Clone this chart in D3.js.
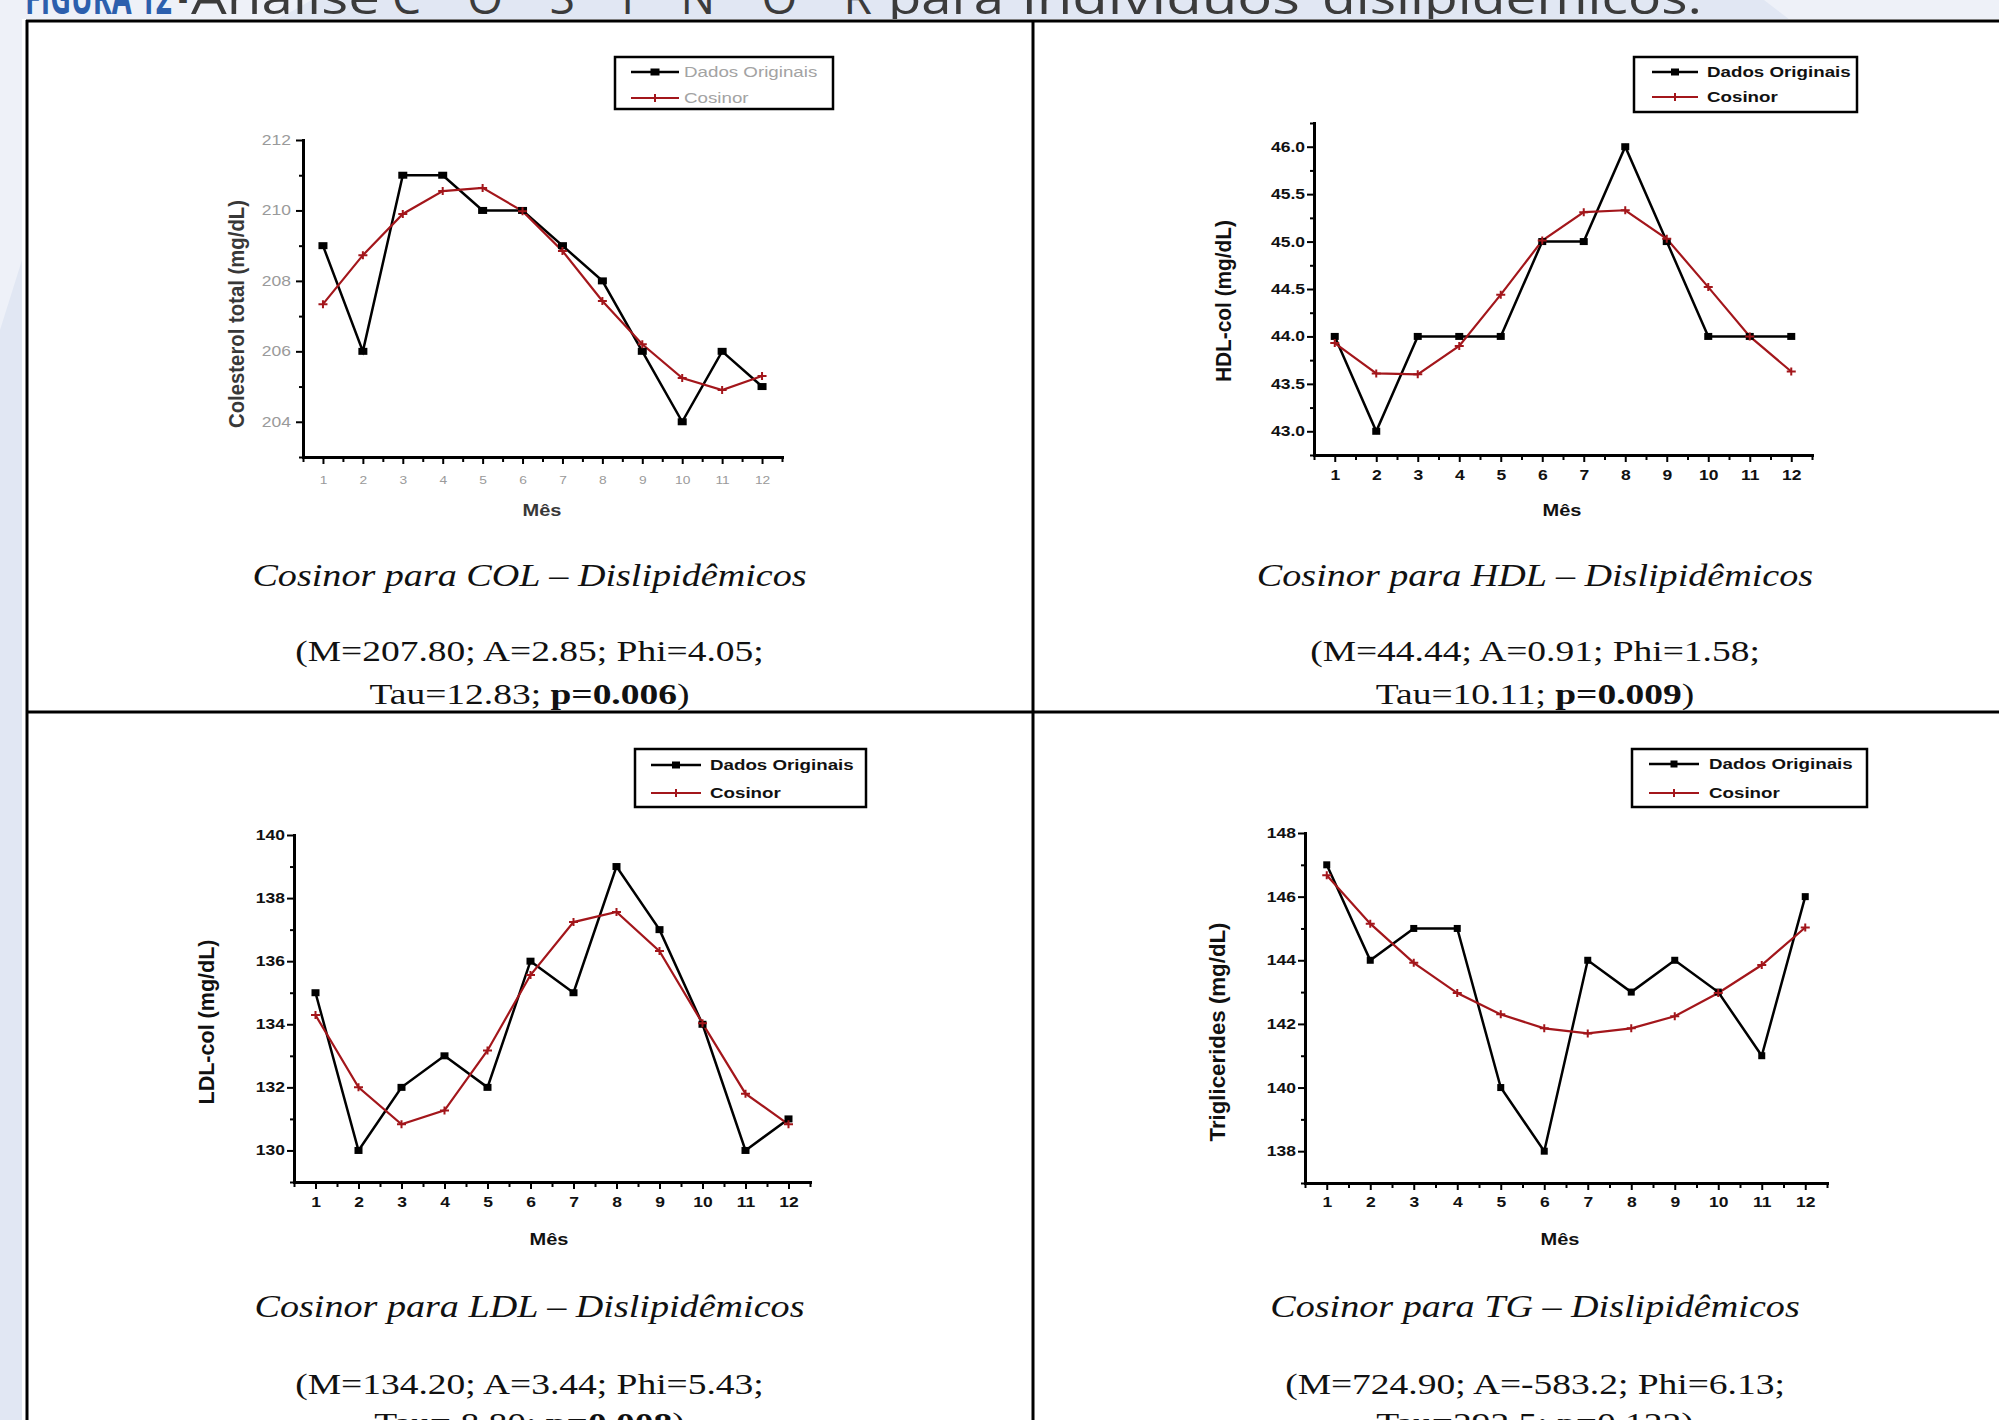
<!DOCTYPE html>
<html>
<head>
<meta charset="utf-8">
<script src="https://cdn.jsdelivr.net/npm/d3@7"></script>
<style>
  html, body { margin: 0; padding: 0; background: #e1e7f3; overflow: hidden; }
  svg { display: block; }
</style>
</head>
<body>
<svg id="fig" width="1999" height="1420"></svg>
<script>
// ---- monthly series (Mês 1..12) ----
const months = [1, 2, 3, 4, 5, 6, 7, 8, 9, 10, 11, 12];

const colOriginal = [209, 206, 211, 211, 210, 210, 209, 208, 206, 204, 206, 205];
const colCosinor  = [207.34, 208.73, 209.9, 210.55, 210.64, 209.98, 208.85, 207.43, 206.2, 205.24, 204.9, 205.3];

const hdlOriginal = [44, 43, 44, 44, 44, 45, 45, 46, 45, 44, 44, 44];
const hdlCosinor  = [43.93, 43.61, 43.6, 43.9, 44.44, 45.01, 45.31, 45.33, 45.03, 44.52, 44.0, 43.63];

const ldlOriginal = [135, 130, 132, 133, 132, 136, 135, 139, 137, 134, 130, 131];
const ldlCosinor  = [134.29, 132.0, 130.83, 131.27, 133.17, 135.56, 137.24, 137.56, 136.32, 134.03, 131.8, 130.83];

const tgOriginal = [147, 144, 145, 145, 140, 138, 144, 143, 144, 143, 141, 146];
const tgCosinor  = [146.67, 145.15, 143.92, 142.97, 142.3, 141.86, 141.7, 141.86, 142.24, 142.97, 143.85, 145.03];

// ---- axis ticks ----
const colTicks = [204, 206, 208, 210, 212];
const colMinor = [203, 205, 207, 209, 211];
const hdlTicks = [43.0, 43.5, 44.0, 44.5, 45.0, 45.5, 46.0];
const hdlMinor = [42.75, 43.25, 43.75, 44.25, 44.75, 45.25, 45.75, 46.25];
const ldlTicks = [130, 132, 134, 136, 138, 140];
const ldlMinor = [129, 131, 133, 135, 137, 139];
const tgTicks  = [138, 140, 142, 144, 146, 148];
const tgMinor  = [137, 139, 141, 143, 145, 147];
const monthMinor = [0.5, 1.5, 2.5, 3.5, 4.5, 5.5, 6.5, 7.5, 8.5, 9.5, 10.5, 11.5, 12.5];

// ---- texts ----
const headingLabel = "FIGURA 12";
const headingWords = ["-", "Análise", "COSINOR", "para", "indivíduos", "dislipidêmicos."];
const legendLabels = ["Dados Originais", "Cosinor"];
const xTitle = "Mês";
const yTitles = ["Colesterol total (mg/dL)", "HDL-col (mg/dL)", "LDL-col (mg/dL)", "Triglicerides (mg/dL)"];
const captions = [
  "Cosinor para COL – Dislipidêmicos",
  "Cosinor para HDL – Dislipidêmicos",
  "Cosinor para LDL – Dislipidêmicos",
  "Cosinor para TG – Dislipidêmicos"
];
const fitLines = [
  "(M=207.80; A=2.85; Phi=4.05;",
  "(M=44.44; A=0.91; Phi=1.58;",
  "(M=134.20; A=3.44; Phi=5.43;",
  "(M=724.90; A=-583.2; Phi=6.13;"
];
const tauLabels = ["Tau=12.83; ", "Tau=10.11; ", "Tau= 8.80; ", "Tau=292.5; "];
const pLabels = ["p=0.006", "p=0.009", "p=0.008", "p=0.122"];
const pSignificant = [true, true, true, false];

// ---- drawing ----
const W = 1999, H = 1420;
const SX = 1.25;               // horizontal widening of the lettering
const RED = "#a3161b";
const svg = d3.select("#fig");

// slide backdrop
svg.append("rect").attr("width", W).attr("height", H).attr("fill", "#e1e7f3");
svg.append("path").attr("d", "M0,0H312L276,20H22V260L0,330Z").attr("fill", "#eef1f8");
svg.append("path").attr("d", "M1764,0H1999V20H1790Z").attr("fill", "#eef1f8");

// slide heading, mostly above the visible area; every word has its own span
const headSpans = [[178, 188], [191, 380], [392, 872], [888, 1004], [1022, 1300], [1322, 1702]];
const head = svg.append("g").attr("font-family", "'Open Sans', sans-serif").attr("font-size", 46);
head.append("text").attr("x", 25).attr("y", 14).attr("fill", "#2c5fad").attr("font-weight", 700)
  .attr("textLength", 147).attr("lengthAdjust", "spacingAndGlyphs").text(headingLabel);
headingWords.forEach((w, k) => {
  const [a, b] = headSpans[k];
  head.append("text").attr("x", a).attr("y", 14).attr("fill", "#3b3b3b")
    .attr("textLength", b - a).attr("lengthAdjust", w === "COSINOR" ? "spacing" : "spacingAndGlyphs")
    .text(w);
});

// white table with its rules
svg.append("rect").attr("x", 22).attr("y", 19).attr("width", W).attr("height", H).attr("fill", "#fff");
const rules = svg.append("g").attr("stroke", "#000").attr("stroke-width", 3);
rules.append("line").attr("x1", 26).attr("x2", W).attr("y1", 21).attr("y2", 21);
rules.append("line").attr("x1", 27).attr("x2", 27).attr("y1", 20).attr("y2", H);
rules.append("line").attr("x1", 1033).attr("x2", 1033).attr("y1", 20).attr("y2", H);
rules.append("line").attr("x1", 26).attr("x2", W).attr("y1", 712).attr("y2", 712);

const panels = [
  { orig: colOriginal, cos: colCosinor, ticks: colTicks, minor: colMinor, domain: [203, 212], fmt: d3.format("d"),
    x0: 303, x1: 782, yTop: 140, yBottom: 457,
    legend: { x0: 615, x1: 833, y0: 57, y1: 109, rows: [72, 98], sx0: 631, sx1: 679, tx: 684 },
    yLab: { cx: 236, cy: 314, len: 228 }, mes: { cx: 542, cy: 510 },
    sq: [9, 7], tickColor: "#9a9a9a", tickWeight: "normal", yTickSize: 14, xTickSize: 11,
    legColor: "#a3a3a3", legWeight: "normal", legSize: 15, labColor: "#383838", xLabOff: 23, yPad: 5 },
  { orig: hdlOriginal, cos: hdlCosinor, ticks: hdlTicks, minor: hdlMinor, domain: [42.75, 46.25], fmt: d3.format(".1f"),
    x0: 1314, x1: 1812, yTop: 123, yBottom: 455,
    legend: { x0: 1634, x1: 1857, y0: 57, y1: 112, rows: [72, 97], sx0: 1652, sx1: 1698, tx: 1707 },
    yLab: { cx: 1223, cy: 301, len: 162 }, mes: { cx: 1562, cy: 510 },
    sq: [8, 7], tickColor: "#111", tickWeight: "bold", yTickSize: 14, xTickSize: 14,
    legColor: "#111", legWeight: "bold", legSize: 15, labColor: "#111", xLabOff: 20, yPad: 2 },
  { orig: ldlOriginal, cos: ldlCosinor, ticks: ldlTicks, minor: ldlMinor, domain: [129, 140], fmt: d3.format("d"),
    x0: 294, x1: 810, yTop: 835, yBottom: 1182,
    legend: { x0: 635, x1: 866, y0: 749, y1: 807, rows: [765, 793], sx0: 651, sx1: 701, tx: 710 },
    yLab: { cx: 206, cy: 1022, len: 165 }, mes: { cx: 549, cy: 1239 },
    sq: [8, 7], tickColor: "#111", tickWeight: "bold", yTickSize: 14, xTickSize: 14,
    legColor: "#111", legWeight: "bold", legSize: 15, labColor: "#111", xLabOff: 20, yPad: 2 },
  { orig: tgOriginal, cos: tgCosinor, ticks: tgTicks, minor: tgMinor, domain: [137, 148], fmt: d3.format("d"),
    x0: 1305, x1: 1827, yTop: 833, yBottom: 1183,
    legend: { x0: 1632, x1: 1867, y0: 749, y1: 807, rows: [764, 793], sx0: 1649, sx1: 1699, tx: 1709 },
    yLab: { cx: 1217, cy: 1032, len: 219 }, mes: { cx: 1560, cy: 1239 },
    sq: [7, 7], tickColor: "#111", tickWeight: "bold", yTickSize: 14, xTickSize: 14,
    legColor: "#111", legWeight: "bold", legSize: 15, labColor: "#111", xLabOff: 19, yPad: 2 }
];

const plusPath = "M-4.5,0H4.5M0,-4V4";

function drawPanel(c, i) {
  const g = svg.append("g");
  const x = d3.scaleLinear().domain([0.5, 12.5]).range([c.x0, c.x1]);
  const y = d3.scaleLinear().domain(c.domain).range([c.yBottom, c.yTop]);

  // y axis: minor then major ticks
  g.append("g").attr("transform", `translate(${c.x0},0)`)
    .call(d3.axisLeft(y).tickValues(c.minor).tickSize(4).tickSizeOuter(0).tickFormat(""));
  const ya = g.append("g").attr("transform", `translate(${c.x0},0)`)
    .call(d3.axisLeft(y).tickValues(c.ticks).tickSize(7).tickSizeOuter(0).tickPadding(c.yPad).tickFormat(c.fmt));
  ya.selectAll("text")
    .attr("font-family", "'Liberation Sans', Arial, sans-serif")
    .attr("font-size", c.yTickSize).attr("font-weight", c.tickWeight).attr("fill", c.tickColor)
    .attr("x", -(7 + c.yPad) / SX).attr("transform", `scale(${SX},1)`);

  // x axis: half-month minor ticks and monthly major ticks
  g.append("g").attr("transform", `translate(0,${c.yBottom})`)
    .call(d3.axisBottom(x).tickValues(monthMinor).tickSize(5).tickSizeOuter(0).tickFormat(""));
  const xa = g.append("g").attr("transform", `translate(0,${c.yBottom})`)
    .call(d3.axisBottom(x).tickValues(months).tickSize(7).tickSizeOuter(0).tickFormat(d3.format("d")));
  xa.selectAll("text")
    .attr("font-family", "'Liberation Sans', Arial, sans-serif")
    .attr("font-size", c.xTickSize).attr("font-weight", c.tickWeight).attr("fill", c.tickColor)
    .attr("y", c.xLabOff).attr("dy", "0.35em").attr("transform", `scale(${SX},1)`);

  g.selectAll(".domain").attr("stroke", "#000").attr("stroke-width", 3).attr("stroke-linecap", "square");
  g.selectAll(".tick line").attr("stroke", "#000").attr("stroke-width", 2);

  // series
  const line = d3.line().x((d, k) => x(months[k])).y(d => y(d));
  g.append("path").datum(c.orig).attr("d", line)
    .attr("fill", "none").attr("stroke", "#000").attr("stroke-width", 2.5).attr("stroke-linejoin", "miter");
  g.append("path").datum(c.cos).attr("d", line)
    .attr("fill", "none").attr("stroke", RED).attr("stroke-width", 2.2);

  g.selectAll(null).data(c.orig).join("rect")
    .attr("x", (d, k) => x(months[k]) - c.sq[0] / 2).attr("y", d => y(d) - c.sq[1] / 2)
    .attr("width", c.sq[0]).attr("height", c.sq[1]).attr("fill", "#000");
  g.selectAll(null).data(c.cos).join("path")
    .attr("transform", (d, k) => `translate(${x(months[k])},${y(d)})`)
    .attr("d", plusPath).attr("stroke", RED).attr("stroke-width", 2).attr("fill", "none");

  // axis titles
  g.append("text")
    .attr("transform", `translate(${c.yLab.cx},${c.yLab.cy}) scale(${SX},1) rotate(-90)`)
    .attr("text-anchor", "middle").attr("dy", "0.35em")
    .attr("font-family", "'Liberation Sans', Arial, sans-serif").attr("font-size", 18).attr("font-weight", "bold")
    .attr("fill", c.labColor)
    .attr("textLength", c.yLab.len).attr("lengthAdjust", "spacingAndGlyphs")
    .text(yTitles[i]);
  g.append("text")
    .attr("transform", `translate(${c.mes.cx},${c.mes.cy}) scale(${SX},1)`)
    .attr("text-anchor", "middle").attr("dy", "0.35em")
    .attr("font-family", "'Liberation Sans', Arial, sans-serif").attr("font-size", 16).attr("font-weight", "bold")
    .attr("fill", c.labColor).text(xTitle);

  // legend
  const L = c.legend;
  const lg = g.append("g");
  lg.append("rect").attr("x", L.x0).attr("y", L.y0).attr("width", L.x1 - L.x0).attr("height", L.y1 - L.y0)
    .attr("fill", "#fff").attr("stroke", "#000").attr("stroke-width", 2.5);
  const mid = (L.sx0 + L.sx1) / 2;
  lg.append("line").attr("x1", L.sx0).attr("x2", L.sx1).attr("y1", L.rows[0]).attr("y2", L.rows[0])
    .attr("stroke", "#000").attr("stroke-width", 2.5);
  lg.append("rect").attr("x", mid - c.sq[0] / 2).attr("y", L.rows[0] - c.sq[1] / 2)
    .attr("width", c.sq[0]).attr("height", c.sq[1]).attr("fill", "#000");
  lg.append("line").attr("x1", L.sx0).attr("x2", L.sx1).attr("y1", L.rows[1]).attr("y2", L.rows[1])
    .attr("stroke", RED).attr("stroke-width", 2.2);
  lg.append("path").attr("transform", `translate(${mid},${L.rows[1]})`).attr("d", plusPath)
    .attr("stroke", RED).attr("stroke-width", 2);
  legendLabels.forEach((lab, k) => {
    lg.append("text")
      .attr("transform", `translate(${L.tx},${L.rows[k]}) scale(${SX},1)`)
      .attr("dy", "0.35em")
      .attr("font-family", "'Liberation Sans', Arial, sans-serif")
      .attr("font-size", c.legSize).attr("font-weight", c.legWeight).attr("fill", c.legColor)
      .text(lab);
  });
}

panels.forEach(drawPanel);

// captions under each chart
const cellCenters = [529.5, 1535, 529.5, 1535];
const captionBase = [586, 586, 1317, 1317];
const fitBase = [661, 661, 1394, 1394];
const tauBase = [704, 704, 1433, 1433];
captions.forEach((cap, i) => {
  const cx = cellCenters[i];
  const t = svg.append("g").attr("font-family", "'Liberation Serif', 'Times New Roman', serif").attr("fill", "#111");
  t.append("text").attr("transform", `translate(${cx},${captionBase[i]}) scale(${SX},1)`)
    .attr("text-anchor", "middle").attr("font-size", 30.5).attr("font-style", "italic").text(cap);
  t.append("text").attr("transform", `translate(${cx},${fitBase[i]}) scale(${SX},1)`)
    .attr("text-anchor", "middle").attr("font-size", 30).text(fitLines[i]);
  const tau = t.append("text").attr("transform", `translate(${cx},${tauBase[i]}) scale(${SX},1)`)
    .attr("text-anchor", "middle").attr("font-size", 30).attr("xml:space", "preserve");
  tau.append("tspan").text(tauLabels[i]);
  tau.append("tspan").attr("font-weight", pSignificant[i] ? "bold" : "normal").text(pLabels[i]);
  tau.append("tspan").text(")");
});
</script>
</body>
</html>
